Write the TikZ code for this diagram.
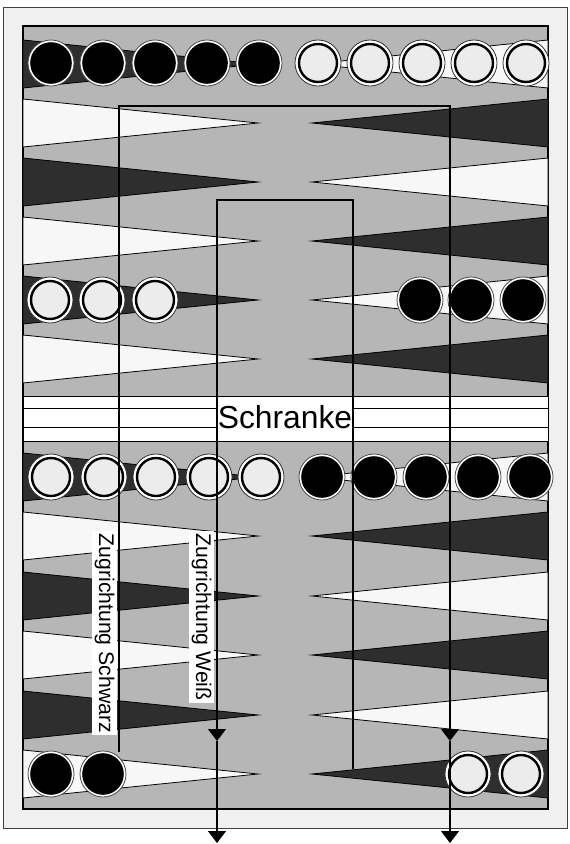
\documentclass[tikz,border=0pt]{standalone}
\usepackage{fontspec}
\setmainfont{Liberation Sans}
\usetikzlibrary{arrows.meta}
\definecolor{boardgray}{HTML}{B6B6B6}
\definecolor{darkpt}{HTML}{2E2E2E}
\definecolor{lightpt}{HTML}{F7F7F7}
\definecolor{framefill}{HTML}{F0F0F0}
\definecolor{chkwhite}{HTML}{ECECEC}
\begin{document}
\begin{tikzpicture}[x=1pt,y=-1pt,
  dtri/.style={fill=darkpt,draw=black,line width=0.8pt},
  ltri/.style={fill=lightpt,draw=black,line width=0.8pt},
  bchk/.style={circle,inner sep=0pt,minimum size=46pt,draw=black!70,line width=0.8pt,fill=white,
     path picture={\fill[black] (path picture bounding box.center) circle (20.8pt);}},
  wchk/.style={circle,inner sep=0pt,minimum size=46pt,draw=black!80,line width=0.8pt,fill=white,
     path picture={\draw[black,line width=2.4pt,fill=chkwhite] (path picture bounding box.center) circle (19pt);}},
  conn/.style={line width=1.1pt,draw=black},
  arr/.style={conn,-{Triangle[width=18pt,length=12pt]}},
  lab/.style={rotate=-90,fill=white,inner sep=2.5pt,font=\fontsize{21.2}{23}\selectfont,anchor=west},
]
\useasboundingbox (0,0) rectangle (570,844);
\fill[white] (0,0) rectangle (570,844);
% frame and board
\filldraw[fill=framefill,draw=black!75,line width=1pt] (3,7) rectangle (567,828);
\filldraw[fill=boardgray,draw=black,line width=1.3pt] (23,26) rectangle (548,809);
% bar
\filldraw[fill=white,draw=black,line width=0.9pt] (23,396) rectangle (548,441);
\draw[line width=0.9pt] (23,408) -- (548,408) (23,427) -- (548,427);
% points
\foreach \cy/\ls/\rs in {64/dtri/ltri,123/ltri/dtri,182/dtri/ltri,241/ltri/dtri,300/dtri/ltri,359/ltri/dtri,
                         477/dtri/ltri,536/ltri/dtri,596/dtri/ltri,655/ltri/dtri,715/dtri/ltri,774/ltri/dtri}{
  \filldraw[\ls] (23,\cy-24) -- (258,\cy) -- (23,\cy+24) -- cycle;
  \filldraw[\rs] (548,\cy-24) -- (312,\cy) -- (548,\cy+24) -- cycle;
}
% checkers
\foreach \x [count=\i] in {51,103,155,207,259}{\node[bchk] (tb\i) at (\x,63) {};}
\foreach \x [count=\i] in {318,370,422,474,526}{\node[wchk] (tw\i) at (\x,63) {};}
\foreach \x [count=\i] in {50,102,155}{\node[wchk] (mw\i) at (\x,300) {};}
\foreach \x [count=\i] in {420,471,523}{\node[bchk] (mb\i) at (\x,300) {};}
\foreach \x [count=\i] in {51,104,156,209,261}{\node[wchk] (uw\i) at (\x,477) {};}
\foreach \x [count=\i] in {322,374,426,478,530}{\node[bchk] (ub\i) at (\x,477) {};}
\foreach \x [count=\i] in {51,103}{\node[bchk] (lb\i) at (\x,774) {};}
\foreach \x [count=\i] in {468,521}{\node[wchk] (lw\i) at (\x,774) {};}
% bar label
\node[fill=white,inner sep=0pt,minimum width=136pt,font=\fontsize{31.8}{32}\selectfont] (schr) at (285,417) {Schranke};
% direction labels
\node[lab] (labS) at (104.5,531) {Zugrichtung Schwarz};
\node[lab] (labW) at (201.5,531) {Zugrichtung Weiß};
% move paths
\coordinate (sStart) at (119,752);
\coordinate (sTL) at (119,106);
\coordinate (sTR) at (450,106);
\coordinate (sMid) at (450,741);
\coordinate (sEnd) at (450,843);
\coordinate (wStart) at (353,769);
\coordinate (wTR) at (353,200);
\coordinate (wTL) at (217,200);
\coordinate (wMid) at (217,741);
\coordinate (wEnd) at (217,843);
\draw[arr] (sStart) -- (sTL) -- (sTR) -- (sMid);
\draw[arr] (sMid) -- (sEnd);
\draw[arr] (wStart) -- (wTR) -- (wTL) -- (wMid);
\draw[arr] (wMid) -- (wEnd);
\end{tikzpicture}
\end{document}
